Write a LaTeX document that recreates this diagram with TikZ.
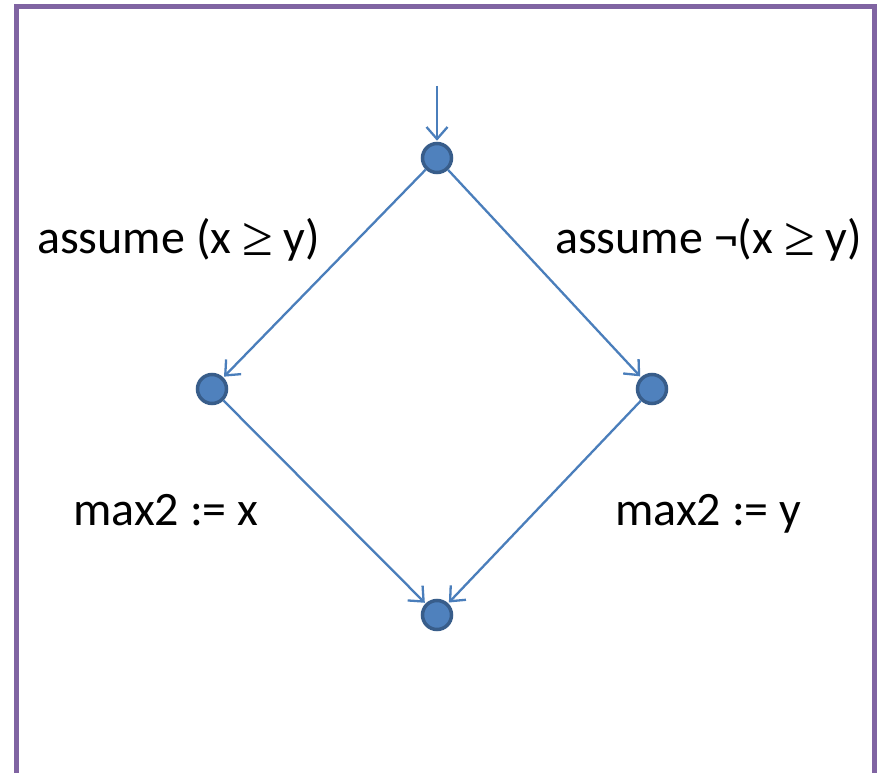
\documentclass[tikz,border=0pt]{standalone}
\usepackage{fontspec}
\setmainfont{Carlito}
\newfontfamily\symfont{Liberation Serif}
\usetikzlibrary{arrows.meta}
\definecolor{frame}{HTML}{8064A2}
\definecolor{nodefill}{HTML}{4F81BD}
\definecolor{nodeline}{HTML}{385D8A}
\definecolor{edge}{HTML}{4A7EBB}
\newcommand{\gesym}{\raisebox{-2pt}{\fontsize{56}{56}\selectfont\symfont ≥}}
\begin{document}
\begin{tikzpicture}[x=1pt,y=-1pt,
  state/.style={circle,fill=nodefill,draw=nodeline,line width=3.5pt,minimum size=29pt,inner sep=0pt},
  flow/.style={draw=edge,line width=2.3pt,-{Straight Barb[length=12pt,width=21pt,line width=2.3pt]},shorten >=1pt},
  lbl/.style={font=\fontsize{48}{52}\selectfont,inner sep=0pt,anchor=base west}]
\useasboundingbox (0,0) rectangle (881,773);
\begin{scope}
\clip (0,0) rectangle (881,773);
\fill[white] (0,0) rectangle (881,773);
\draw[frame,line width=5pt] (16.5,7) rectangle (874,776);
\end{scope}
\node[state] (top) at (437,158) {};
\node[state] (left) at (212,389) {};
\node[state] (right) at (652,389) {};
\node[state] (bot) at (437,615) {};
\coordinate (entry) at (437,86);
\draw[flow] (entry) -- (top);
\draw[flow] (top) -- (left);
\draw[flow] (top) -- (right);
\draw[flow] (left) -- (bot);
\draw[flow] (right) -- (bot);
\node[lbl] (l1) at (37,253) {assume (x \gesym{} y)};
\node[lbl] (l2) at (555,253) {assume ¬(x \gesym{} y)};
\node[lbl] (l3) at (73,525) {max2 := x};
\node[lbl] (l4) at (615,525) {max2 := y};
\end{tikzpicture}
\end{document}
